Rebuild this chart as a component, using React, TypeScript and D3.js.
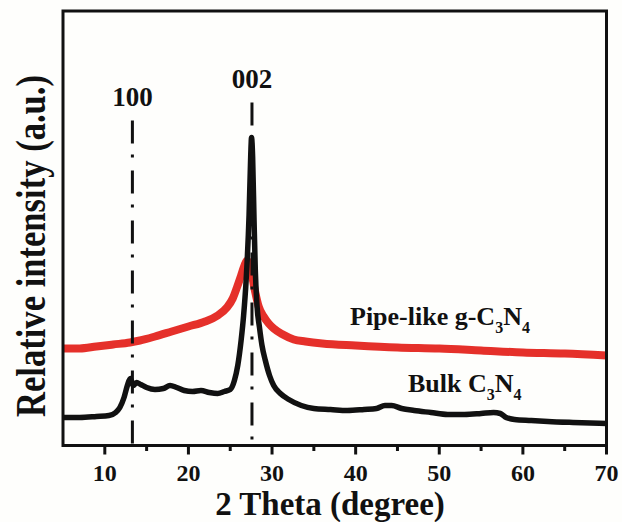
import React from "react";
import * as d3 from "d3";

// ---- data (2θ in degrees, relative intensity in a.u.) ----
const bulkTheta = [5, 7, 9, 10.5, 11.3, 11.8, 12.3, 12.7, 13.05, 13.4, 13.8, 14.3, 15, 16, 17, 17.8, 18.6, 19.5, 20.5, 21.5, 22.5, 23.5, 24.3, 25, 25.5, 25.9, 26.3, 26.6, 26.9, 27.25, 27.45, 27.55, 27.68, 27.85, 28.0, 28.2, 28.5, 28.8, 29.2, 29.7, 30.2, 31, 32, 33.5, 35, 37, 39, 41, 42.5, 43.5, 44.3, 45.5, 47, 49, 51, 53, 55, 56.5, 57.3, 58, 59, 61, 63, 66, 70];
const bulkIntensity = [28, 28, 29, 30, 33, 38, 48, 60, 67, 60, 63, 61, 58, 56, 57, 60, 58, 55, 54, 55, 53, 52, 54, 56, 65, 80, 105, 130, 165, 230, 290, 308, 288, 225, 175, 140, 118, 100, 85, 70, 60, 52, 46, 40, 37, 36, 35, 36, 37, 40, 40, 37, 35, 33, 31, 31, 32, 33, 32, 28, 26, 25, 24, 23, 22];

const pipeTheta = [5, 7, 9, 11, 13, 14.2, 16, 18, 20, 22, 23.5, 24.6, 25.3, 25.8, 26.3, 26.7, 27.0, 27.3, 27.7, 28.0, 28.4, 29, 29.6, 30.2, 31.3, 32.6, 34, 36, 40, 45, 50, 55, 60, 65, 70];
const pipeIntensity = [97, 97, 99, 101, 103, 105, 109, 114, 119, 124, 130, 138, 147, 158, 170, 180, 185, 181, 166, 153, 139, 129, 122, 117, 111, 106, 104, 102, 100, 98, 97, 95, 93, 92, 90];

const xTicksMajor = [10, 20, 30, 40, 50, 60, 70];
const xTicksMinor = [15, 25, 35, 45, 55, 65];

const peakLabels = ["100", "002"];
const peakTheta = [13.3, 27.6];
const peakLineTop = [325, 343];

const FONT = "'Liberation Serif', 'Times New Roman', Times, serif";

export default function App() {
  const W = 622;
  const H = 522;
  const left = 63, right = 606.5, top = 11, bottom = 445.5;

  const x = d3.scaleLinear().domain([5, 70]).range([left, right]);
  const y = d3.scaleLinear().domain([0, 434.5]).range([bottom, top]);

  const line = d3
    .line<[number, number]>()
    .x((d) => x(d[0]))
    .y((d) => y(d[1]))
    .curve(d3.curveMonotoneX);

  const bulk = bulkTheta.map((t, i) => [t, bulkIntensity[i]] as [number, number]);
  const pipe = pipeTheta.map((t, i) => [t, pipeIntensity[i]] as [number, number]);

  return (
    <svg
      width={W}
      height={H}
      viewBox={`0 0 ${W} ${H}`}
      style={{ position: "absolute", left: 0, top: 0, background: "#fefefc" }}
      fontFamily={FONT}
    >
      <rect x={0} y={0} width={W} height={H} fill="#fefefc" />
      {/* data */}
      <path d={line(pipe) || ""} fill="none" stroke="#e5302a" strokeWidth={8} strokeLinejoin="round" />
      <path d={line(bulk) || ""} fill="none" stroke="#111111" strokeWidth={5.5} strokeLinejoin="round" />

      {/* peak reference lines */}
      {peakTheta.map((t, i) => (
        <g key={peakLabels[i]}>
          <line
            x1={x(t)}
            x2={x(t)}
            y1={y(peakLineTop[i])}
            y2={bottom}
            stroke="#111"
            strokeWidth={3}
            strokeDasharray="23,11,3,13"
          />
          <text
            x={x(t)}
            y={y(peakLineTop[i]) - 15}
            textAnchor="middle"
            fontSize={27}
            fontWeight="bold"
            fill="#111"
          >
            {peakLabels[i]}
          </text>
        </g>
      ))}

      {/* frame */}
      <rect x={left} y={top} width={right - left} height={bottom - top} fill="none" stroke="#111" strokeWidth={3} />

      {/* x ticks */}
      {xTicksMajor.map((t) => (
        <g key={"M" + t}>
          <line x1={x(t)} x2={x(t)} y1={bottom} y2={bottom + 9} stroke="#111" strokeWidth={3} />
          <text x={x(t)} y={481} textAnchor="middle" fontSize={24} fontWeight="bold" fill="#111">
            {t}
          </text>
        </g>
      ))}
      {xTicksMinor.map((t) => (
        <line key={"m" + t} x1={x(t)} x2={x(t)} y1={bottom} y2={bottom + 5.5} stroke="#111" strokeWidth={3} />
      ))}

      {/* axis titles */}
      <text x={330} y={515} textAnchor="middle" fontSize={33} fontWeight="bold" fill="#111">
        2 Theta (degree)
      </text>
      <text
        transform="translate(45,246) rotate(-90)"
        textAnchor="middle"
        fontSize={42}
        fontWeight="bold"
        fill="#111"
        textLength={342}
        lengthAdjust="spacingAndGlyphs"
      >
        Relative intensity (a.u.)
      </text>

      {/* series labels */}
      <text x={350} y={325} fontSize={26} fontWeight="bold" fill="#111">
        Pipe-like g-C
        <tspan fontSize={16} dy={8}>3</tspan>
        <tspan dy={-8}>N</tspan>
        <tspan fontSize={16} dy={8}>4</tspan>
      </text>
      <text x={408} y={392} fontSize={26} fontWeight="bold" fill="#111">
        Bulk C
        <tspan fontSize={16} dy={8}>3</tspan>
        <tspan dy={-8}>N</tspan>
        <tspan fontSize={16} dy={8}>4</tspan>
      </text>
    </svg>
  );
}
